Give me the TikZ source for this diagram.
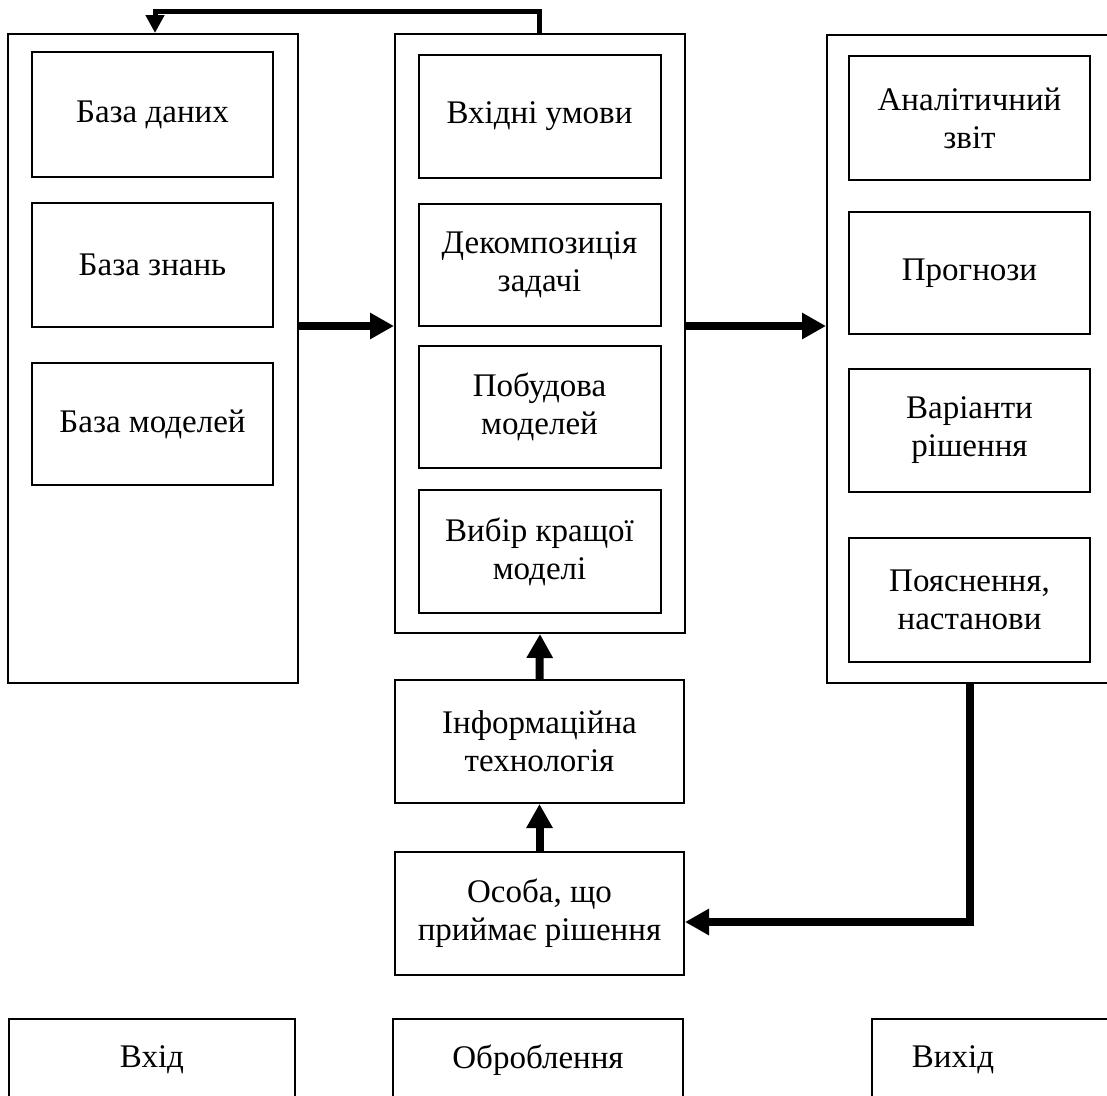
\documentclass[tikz,border=0pt]{standalone}
\usepackage{fontspec}
\setmainfont{Liberation Serif}
\usetikzlibrary{arrows.meta}
\begin{document}
\begin{tikzpicture}[x=1pt,y=-1pt,
 box/.style={draw, line width=2pt, align=center, inner sep=0pt, font=\fontsize{33}{38}\selectfont},
 frame/.style={draw, line width=2pt, inner sep=0pt},
 txt/.style={inner sep=0pt, font=\fontsize{33}{38}\selectfont},
 flow/.style={line width=8pt, -{Triangle[length=24pt,width=25pt]}},
 back/.style={line width=5pt, -{Triangle[length=18pt,width=18pt]}}]
\useasboundingbox (0,0) rectangle (1107,1095);
\clip (0,0) rectangle (1107,1095);
% outer frames
\node[frame, minimum width=290pt, minimum height=649pt] (lo) at (153,358.5) {};
\node[frame, minimum width=290pt, minimum height=599pt] (mo) at (540,333.5) {};
\node[frame, minimum width=288pt, minimum height=648pt] (ro) at (971,359) {};
% left column
\node[box, minimum width=241pt, minimum height=125pt] (bd) at (152.5,114.5) {База даних};
\node[box, minimum width=241pt, minimum height=124pt] (bz) at (152.5,265) {База знань};
\node[box, minimum width=241pt, minimum height=122pt] (bm) at (152.5,424) {База моделей};
% middle column
\node[box, minimum width=242pt, minimum height=123pt] (vu) at (539.5,116.5) {Вхідні умови};
\node[box, minimum width=242pt, minimum height=122pt] (dz) at (539.5,265) {Декомпозиція\\задачі};
\node[box, minimum width=242pt, minimum height=122pt] (pm) at (539.5,407) {Побудова\\моделей};
\node[box, minimum width=242pt, minimum height=123pt] (vm) at (539.5,551.5) {Вибір кращої\\моделі};
% right column
\node[box, minimum width=241pt, minimum height=124pt] (az) at (969.5,118) {Аналітичний\\звіт};
\node[box, minimum width=241pt, minimum height=122pt] (pr) at (969.5,273) {Прогнози};
\node[box, minimum width=241pt, minimum height=123pt] (vr) at (969.5,430.5) {Варіанти\\рішення};
\node[box, minimum width=241pt, minimum height=124pt] (pn) at (969.5,600) {Пояснення,\\настанови};
% lower middle
\node[box, minimum width=289pt, minimum height=123pt] (it) at (539.5,741.5) {Інформаційна\\технологія};
\node[box, minimum width=289pt, minimum height=123pt] (os) at (539.5,913.5) {Особа, що\\приймає рішення};
% bottom row
\node[box, minimum width=286pt, minimum height=82pt] (vh) at (152,1060) {Вхід};
\node[box, minimum width=290pt, minimum height=82pt] (ob) at (538,1060) {Оброблення};
\node[frame, minimum width=243pt, minimum height=82pt] (vyh) at (993.5,1060) {};
\node[txt] (vyhtxt) at (953,1060) {Вихід};
% connectors
\draw[flow] (lo.east |- 0,326) -- (mo.west |- 0,326);
\draw[flow] (mo.east |- 0,326) -- (ro.west |- 0,326);
\draw[flow] (it.north) -- (mo.south);
\draw[flow] (os.north) -- (it.south);
\draw[flow] (ro.south -| 970,0) |- (os.east |- 0,922);
\draw[back] (mo.north -| 539,0) -- ++(0,-22) -| (lo.north -| 155,0);
\end{tikzpicture}
\end{document}
